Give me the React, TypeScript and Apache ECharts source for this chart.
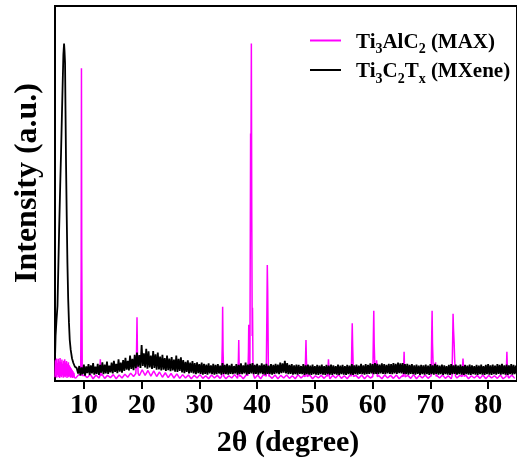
import React, { useEffect, useRef } from "react";
import * as echarts from "echarts";

const FONT = '"Times New Roman", "Liberation Serif", serif';

const X_TICKS = [10, 20, 30, 40, 50, 60, 70, 80];
const SERIES_NAMES = ["Ti3AlC2 (MAX)", "Ti3C2Tx (MXene)"];
const X_NAME = "2θ (degree)";
const Y_NAME = "Intensity (a.u.)";

// MXene (Ti3C2Tx): low-angle (002) peak, explicit [2θ, intensity]
const MXENE_PEAK: [number, number][] = [
  [5.0, 6], [5.1, 12], [5.25, 16], [5.43, 20], [5.6, 32], [5.71, 40], [5.9, 52],
  [6.05, 61], [6.2, 71], [6.34, 80], [6.45, 87], [6.57, 90], [6.65, 88], [6.74, 84.8],
  [6.82, 72], [6.91, 58], [7.03, 44], [7.15, 31.5], [7.28, 22], [7.42, 15.5],
  [7.55, 11], [7.72, 8.3], [7.95, 6], [8.18, 4.8], [8.45, 3.8], [8.75, 3.5],
];
// MXene noisy background, read every 0.2° starting at 9.0°
const MXENE_BASE_START = 9.0;
const MXENE_BASE_STEP = 0.2;
const MXENE_BASE = [
  2.0, 4.0, 1.5, 3.6, 1.8, 4.4, 1.4, 3.9, 2.1, 4.5,
  1.6, 4.2, 2.0, 4.8, 1.7, 3.8, 1.9, 4.6, 1.6, 4.3,
  2.2, 5.0, 1.8, 4.4, 2.0, 5.2, 1.9, 4.1, 2.3, 4.9,
  2.0, 5.4, 2.4, 4.6, 2.1, 5.8, 2.5, 4.9, 2.2, 5.6,
  2.7, 6.2, 3.0, 5.4, 2.8, 6.8, 3.2, 5.9, 2.9, 7.0,
  3.4, 7.6, 3.8, 6.9, 3.5, 9.6, 4.0, 7.4, 3.6, 8.6,
  3.3, 7.9, 3.6, 6.8, 3.2, 8.0, 3.5, 7.1, 3.0, 7.6,
  3.1, 6.5, 2.8, 7.0, 3.0, 6.1, 2.7, 6.8, 2.9, 6.0,
  2.6, 6.4, 2.8, 5.7, 2.5, 6.8, 2.4, 5.9, 2.7, 6.3,
  2.3, 5.6, 2.1, 5.1, 2.4, 5.5, 2.0, 4.9, 2.2, 5.3,
  2.0, 4.8, 1.8, 5.0, 2.1, 4.5, 1.9, 4.9, 1.7, 4.6,
  1.9, 4.4, 1.7, 4.7, 2.0, 4.2, 1.8, 4.6, 1.7, 4.3,
  1.8, 4.5, 2.0, 4.1, 1.7, 4.8, 1.9, 4.3, 1.8, 4.6,
  1.7, 4.2, 1.9, 4.6, 1.8, 4.0, 2.0, 4.5, 1.7, 4.3,
  1.9, 4.7, 1.8, 4.2, 2.0, 4.9, 1.7, 4.4, 1.9, 4.6,
  2.0, 4.8, 1.8, 4.3, 1.9, 4.6, 1.7, 4.2, 2.0, 4.7,
  1.8, 4.4, 1.7, 4.6, 1.9, 4.1, 1.8, 4.5, 1.7, 4.3,
  1.9, 4.6, 2.0, 4.4, 1.8, 4.9, 2.1, 4.7, 2.2, 5.4,
  2.0, 4.8, 1.8, 4.3, 1.9, 4.5, 1.7, 4.2, 1.8, 4.4,
  1.7, 4.3, 1.9, 4.0, 1.8, 4.5, 1.6, 4.2, 1.8, 4.4,
  1.7, 4.1, 1.6, 4.4, 1.8, 4.0, 1.7, 4.3, 1.6, 4.1,
  1.8, 4.4, 1.7, 4.0, 1.6, 4.3, 1.8, 4.1, 1.7, 4.4,
  1.6, 4.2, 1.8, 4.0, 1.7, 4.4, 1.6, 4.1, 1.8, 4.3,
  1.7, 4.0, 1.6, 4.3, 1.8, 4.1, 1.7, 4.5, 1.6, 4.2,
  1.8, 4.4, 1.7, 4.1, 1.9, 4.6, 1.8, 4.2, 1.7, 4.5,
  1.8, 4.3, 1.9, 4.7, 2.0, 4.5, 1.8, 4.8, 1.9, 4.6,
  1.8, 4.4, 2.0, 4.7, 1.9, 4.5, 1.8, 4.3, 2.0, 4.6,
  1.9, 4.5, 1.8, 4.8, 2.0, 4.6, 1.9, 4.9, 2.1, 4.7,
  2.0, 4.8, 1.9, 4.5, 1.8, 4.6, 1.7, 4.3, 1.9, 4.5,
  1.8, 4.2, 1.7, 4.4, 1.9, 4.1, 1.6, 4.3, 1.8, 4.2,
  1.7, 4.4, 1.8, 4.1, 1.6, 4.5, 1.8, 4.2, 1.7, 4.6,
  1.9, 4.3, 1.7, 4.1, 1.8, 4.4, 1.6, 4.2, 1.8, 4.0,
  1.7, 4.3, 1.6, 4.5, 1.8, 4.2, 1.9, 4.4, 1.7, 4.1,
  1.8, 4.4, 1.7, 4.0, 1.6, 4.3, 1.8, 4.1, 1.7, 4.4,
  1.6, 4.2, 1.8, 4.0, 1.7, 4.3, 1.6, 4.1, 1.8, 4.4,
  1.7, 4.0, 1.6, 4.3, 1.8, 4.5, 1.7, 4.2, 1.6, 4.4,
  1.8, 4.1, 1.7, 4.5, 1.9, 4.3, 1.7, 4.6, 1.8, 4.2,
  1.7, 4.4, 1.6, 4.2, 1.8, 4.5, 1.7, 4.3, 1.8, 4.1,
  1.9,
];

// MAX (Ti3AlC2): low-angle noise every 0.08° from 5.0°
const MAX_LOW_START = 5.0;
const MAX_LOW_STEP = 0.08;
const MAX_LOW = [
  1.0, 5.5, 1.4, 6.0, 0.9, 4.8, 1.6, 5.9, 1.1, 5.2,
  0.8, 6.1, 1.3, 5.0, 1.0, 5.7, 1.5, 4.6, 0.9, 5.4,
  1.2, 5.8, 1.0, 4.9, 1.4, 5.3, 0.8, 4.5, 1.2, 5.0,
  1.0, 4.2, 1.3, 3.8, 0.9, 3.4, 1.1, 3.0, 0.8, 2.6,
  1.0, 2.2, 0.9,
];
// MAX background every 0.5° from 8.6°
const MAX_BASE_START = 8.6;
const MAX_BASE_STEP = 0.5;
const MAX_BASE = [
  0.8, 1.7, 0.7, 1.5, 0.9, 1.8, 0.6, 1.6, 0.8, 1.9,
  0.7, 1.5, 0.9, 1.7, 0.6, 1.6, 0.8, 1.8, 1.0, 2.1,
  1.2, 2.6, 1.4, 3.0, 1.5, 2.8, 1.3, 2.7, 1.2, 2.4,
  1.0, 2.2, 0.9, 2.0, 0.8, 1.9, 0.7, 1.7, 0.8, 1.6,
  0.6, 1.5, 0.8, 1.7, 0.7, 1.4, 0.6, 1.6, 0.8, 1.5,
  0.7, 1.6, 0.6, 1.4, 0.8, 1.7, 0.7, 1.5, 0.6, 1.6,
  0.8, 1.5, 0.7, 1.6, 0.6, 1.7, 0.8, 1.4, 0.7, 1.6,
  0.6, 1.5, 0.8, 1.6, 0.7, 1.4, 0.6, 1.7, 0.8, 1.5,
  0.7, 1.6, 0.6, 1.4, 0.8, 1.5, 0.7, 1.6, 0.6, 1.5,
  0.8, 1.7, 0.7, 1.4, 0.6, 1.6, 0.8, 1.5, 0.7, 1.6,
  0.6, 1.5, 0.8, 1.7, 0.7, 1.4, 0.6, 1.6, 0.8, 1.5,
  0.7, 1.6, 0.6, 1.4, 0.8, 1.5, 0.7, 1.7, 0.6, 1.5,
  0.8, 1.6, 0.7, 1.4, 0.6, 1.5, 0.8, 1.6, 0.7, 1.4,
  0.6, 1.7, 0.8, 1.5, 0.7, 1.6, 0.6, 1.4, 0.8, 1.5,
  0.7, 1.6, 0.6, 1.5, 0.8, 1.4, 0.7, 1.6, 0.6, 1.5,
  0.8, 1.6, 0.7,
];
// MAX diffraction peaks, explicit [2θ, intensity]
const MAX_PEAKS: [number, number][][] = [
  [[9.45, 1.5], [9.53, 30], [9.58, 83.4], [9.63, 35], [9.72, 1.5]],
  [[12.75, 1.2], [12.85, 5.8], [12.95, 1.4]],
  [[19.0, 2], [19.12, 8], [19.2, 17], [19.28, 7], [19.4, 2]],
  [[33.85, 1.2], [33.97, 10], [34.03, 19.8], [34.1, 8], [34.22, 1.3]],
  [[36.65, 1.1], [36.76, 6], [36.82, 10.9], [36.88, 5], [36.98, 1.2]],
  [[38.4, 1.5], [38.5, 8], [38.55, 15], [38.62, 3], [38.75, 4], [38.82, 40], [38.87, 66],
   [38.93, 60], [39.0, 90], [39.07, 45], [39.15, 12], [39.2, 19.5], [39.28, 5], [39.4, 1.5]],
  [[41.58, 1.3], [41.69, 18], [41.76, 30.9], [41.83, 24], [41.95, 3], [42.05, 1.2]],
  [[48.3, 1.1], [48.4, 7], [48.46, 10.9], [48.53, 6], [48.65, 1.2]],
  [[52.2, 1.2], [52.3, 4], [52.35, 5.8], [52.42, 4], [52.52, 1.1]],
  [[56.3, 1.3], [56.4, 10], [56.47, 15.4], [56.55, 9], [56.68, 1.2]],
  [[60.03, 1.2], [60.13, 12], [60.2, 18.7], [60.27, 10], [60.4, 3], [60.6, 2.5], [60.7, 5.5], [60.8, 1.2]],
  [[65.3, 1.2], [65.4, 5], [65.45, 7.8], [65.52, 4], [65.62, 1.1]],
  [[70.13, 1.2], [70.23, 12], [70.3, 18.7], [70.37, 10], [70.5, 3], [70.8, 2.5], [70.9, 5], [71.0, 1.2]],
  [[73.75, 1.3], [73.86, 11], [73.93, 17.9], [74.0, 14], [74.12, 10], [74.2, 6], [74.35, 1.3]],
  [[75.5, 1.2], [75.6, 4.5], [75.65, 6], [75.72, 4], [75.85, 1.2]],
  [[83.1, 1.2], [83.2, 5], [83.25, 7.8], [83.32, 4], [83.45, 1.2]],
];

const gridPts = (start: number, step: number, vals: number[]): [number, number][] =>
  vals.map((v, i) => [Math.round((start + i * step) * 1000) / 1000, v]);

function buildMxene(): [number, number][] {
  return [...MXENE_PEAK, ...gridPts(MXENE_BASE_START, MXENE_BASE_STEP, MXENE_BASE)];
}

function buildMax(): [number, number][] {
  const base = [
    ...gridPts(MAX_LOW_START, MAX_LOW_STEP, MAX_LOW),
    ...gridPts(MAX_BASE_START, MAX_BASE_STEP, MAX_BASE),
  ].filter(([x]) => !MAX_PEAKS.some((p) => x >= p[0][0] && x <= p[p.length - 1][0]));
  const all = [...base, ...MAX_PEAKS.flat()];
  all.sort((a, b) => a[0] - b[0]);
  return all;
}

export default function App() {
  const ref = useRef<HTMLDivElement>(null);
  useEffect(() => {
    if (!ref.current) return;
    const chart = echarts.init(ref.current, null, { renderer: "svg" });
    const rich = {
      n: { fontFamily: FONT, fontWeight: "bold", fontSize: 21, lineHeight: 30, color: "#000" },
      s: { fontFamily: FONT, fontWeight: "bold", fontSize: 14, lineHeight: 14, verticalAlign: "bottom", color: "#000" },
    };
    chart.setOption({
      animation: false,
      grid: {
        left: 55, right: -4, top: 6, bottom: 83,
        show: true, borderColor: "#000", borderWidth: 2,
      },
      legend: {
        orient: "vertical",
        left: 310,
        top: 30,
        padding: 0,
        itemGap: 4,
        itemWidth: 31,
        itemHeight: 2,
        icon: "rect",
        data: SERIES_NAMES,
        textStyle: { fontFamily: FONT, fontWeight: "bold", fontSize: 21, color: "#000", padding: [0, 0, 0, 10], rich },
        formatter: (name: string) =>
          name === SERIES_NAMES[0]
            ? "{n|Ti}{s|3}{n|AlC}{s|2}{n| (MAX)}"
            : "{n|Ti}{s|3}{n|C}{s|2}{n|T}{s|x}{n| (MXene)}",
      },
      xAxis: {
        type: "value",
        min: 5,
        max: 85,
        axisLine: { show: true, lineStyle: { color: "#000", width: 2 } },
        axisTick: { show: true, customValues: X_TICKS, length: 8, inside: false, lineStyle: { color: "#000", width: 2 } },
        axisLabel: { customValues: X_TICKS, color: "#000", fontSize: 28, fontWeight: "bold", fontFamily: FONT, margin: 8 },
        splitLine: { show: false },
      },
      yAxis: {
        type: "value",
        min: 0,
        max: 100,
        axisLine: { show: true, lineStyle: { color: "#000", width: 2 } },
        axisTick: { show: false },
        axisLabel: { show: false },
        splitLine: { show: false },
      },
      graphic: [
        {
          type: "text",
          x: 288,
          y: 440,
          style: { text: X_NAME, font: `bold 30px ${FONT}`, fill: "#000", textAlign: "center", textVerticalAlign: "middle" },
        },
        {
          type: "text",
          x: 25,
          y: 183,
          rotation: Math.PI / 2,
          style: { text: Y_NAME, font: `bold 32px ${FONT}`, fill: "#000", textAlign: "center", textVerticalAlign: "middle" },
        },
      ],
      series: [
        {
          name: SERIES_NAMES[0],
          type: "line",
          data: buildMax(),
          showSymbol: false,
          symbol: "none",
          color: "#FF00FF",
          lineStyle: { color: "#FF00FF", width: 1.5 },
          z: 2,
        },
        {
          name: SERIES_NAMES[1],
          type: "line",
          data: buildMxene(),
          showSymbol: false,
          symbol: "none",
          color: "#000000",
          lineStyle: { color: "#000000", width: 1.8 },
          z: 3,
        },
      ],
    });
    return () => chart.dispose();
  }, []);
  return <div ref={ref} style={{ position: "fixed", left: 0, top: 0, width: 517, height: 464 }} />;
}
